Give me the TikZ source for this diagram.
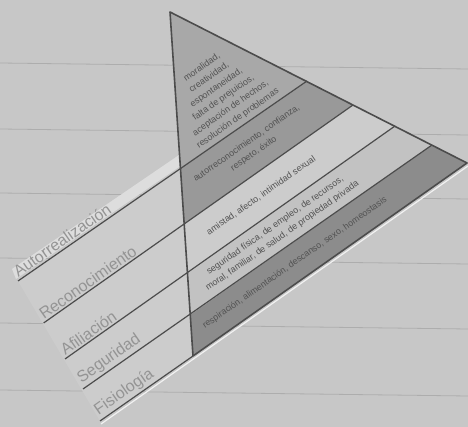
\documentclass[tikz,border=0pt]{standalone}
\usepackage{fontspec}
\setmainfont{Liberation Sans}
\usetikzlibrary{calc}
\definecolor{paper}{gray}{0.78}
\definecolor{ruling}{gray}{0.68}
\definecolor{cutout}{gray}{0.80}
\definecolor{inkline}{gray}{0.30}
\definecolor{bandA}{gray}{0.66}
\definecolor{bandB}{gray}{0.60}
\definecolor{bandC}{gray}{0.80}
\definecolor{bandD}{gray}{0.76}
\definecolor{bandE}{gray}{0.55}

\begin{document}
\begin{tikzpicture}[
  x=1pt, y=-1pt,
  edge/.style={draw=inkline, line width=1.6pt, line join=round},
  seprule/.style={draw=inkline, line width=1.2pt},
  bandtext/.style={rotate=35, align=center, text=black!68, inner sep=0pt,
    font=\fontsize{9}{12.5}\selectfont},
  levelname/.style={rotate=35, anchor=south west, text=black!42, inner sep=2pt,
    font=\fontsize{16}{18}\selectfont}
  ]
  % page of the notebook
  \fill[paper] (0,0) rectangle (468,427);
  \useasboundingbox (0,0) rectangle (468,427);
  \foreach \y in {63,129,193,258,323,390}{
    \draw[ruling, line width=0.8pt] (0,\y) -- (468,\y+6);
  }

  % corners of the pyramid
  \coordinate (apex) at (170,12);
  \coordinate (rv) at (467,163);
  \coordinate (bv) at (193,356);
  % ends of the separators
  \coordinate (l1) at (180.5,168);
  \coordinate (l2) at (184.3,224);
  \coordinate (l3) at (187.6,274);
  \coordinate (l4) at (190.4,315);
  \coordinate (l5) at (bv);
  \coordinate (r1) at (307,81);
  \coordinate (r2) at (353,105);
  \coordinate (r3) at (395,126);
  \coordinate (r4) at (432,145);
  \coordinate (r5) at (rv);
  % left ends of the label strip
  \coordinate (e1) at (18,281);
  \coordinate (e2) at (43.6,323);
  \coordinate (e3) at (65,359);
  \coordinate (e4) at (83,389);
  \coordinate (e5) at (100,421);

  % label strip (cut out and glued)
  \fill[cutout] (e1) -- (l1) -- (l5) -- (e5) -- cycle;
  \fill[white!40!paper] ($(e1)+(-2,-2)$) -- ($(l1)+(0,-2)$) -- ($(l1)+(0,-14)$)
    -- ($(e1)+(-6,-12)$) -- cycle;

  % bands begin
  \fill[bandA] (apex) -- (r1) -- (l1) -- cycle;
  \fill[bandB] (l1) -- (r1) -- (r2) -- (l2) -- cycle;
  \fill[bandC] (l2) -- (r2) -- (r3) -- (l3) -- cycle;
  \fill[bandD] (l3) -- (r3) -- (r4) -- (l4) -- cycle;
  \fill[bandE] (l4) -- (r4) -- (r5) -- (l5) -- cycle;
  % bands end

  % lines
  \draw[white!75!paper, line width=1.2pt] ($(e5)+(1,3)$) -- ($(r5)+(1,3)$);
  \foreach \i in {1,...,4}{
    \draw[seprule] (e\i) -- (r\i);
  }
  \draw[seprule] (e5) -- (l5);
  \draw[edge] (apex) -- (rv) -- (bv) -- cycle;

  % texts in the bands
  \node[bandtext] (txtA) at (220,93)
    {moralidad,\\creatividad,\\espontaneidad,\\falta de prejuicios,\\aceptación de hechos,\\resolución de problemas};
  \node[bandtext] (txtB) at ($($(l1)!0.5!(l2)$)!0.46!($(r1)!0.5!(r2)$)$)
    {autorreconocimiento, confianza,\\respeto, éxito};
  \node[bandtext] (txtC) at ($($(l2)!0.5!(l3)$)!0.40!($(r2)!0.5!(r3)$)$)
    {amistad, afecto, intimidad sexual};
  \node[bandtext] (txtD) at ($($(l3)!0.5!(l4)$)!0.40!($(r3)!0.5!(r4)$)$)
    {seguridad física, de empleo, de recursos,\\moral, familiar, de salud, de propiedad privada};
  \node[bandtext] (txtE) at ($($(l4)!0.5!(l5)$)!0.40!($(r4)!0.5!(r5)$)$)
    {respiración, alimentación, descanso, sexo, homeostasis};

  % names of the levels
  \foreach \i/\lvl in {1/Autorrealización, 2/Reconocimiento, 3/Afiliación,
    4/Seguridad, 5/Fisiología}{
    \node[levelname] (lvl\i) at (e\i) {\lvl};
  }
\end{tikzpicture}
\end{document}
